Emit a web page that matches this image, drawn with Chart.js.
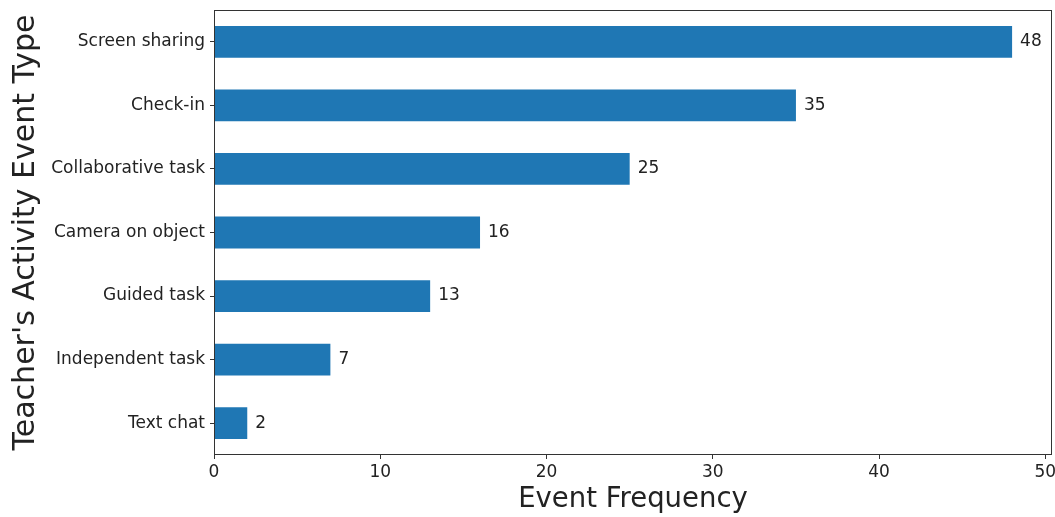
<!DOCTYPE html>
<html>
<head>
<meta charset="utf-8">
<script src="https://cdn.jsdelivr.net/npm/chart.js@4/dist/chart.umd.min.js"></script>
<style>
  html, body { margin: 0; padding: 0; background: #fff; }
  #wrap { width: 1055px; height: 517px; position: relative; }
</style>
</head>
<body>
<div id="wrap"><canvas id="c" width="1055" height="517"></canvas></div>
<script>
const categories = ["Screen sharing", "Check-in", "Collaborative task", "Camera on object", "Guided task", "Independent task", "Text chat"];
const frequencies = [48, 35, 25, 16, 13, 7, 2];
const xTickValues = [0, 10, 20, 30, 40, 50];
const xAxisMax = 50.4;
const xTitle = "Event Frequency";
const yTitle = "Teacher's Activity Event Type";

const FONT = "'DejaVu Sans', sans-serif";
const TEXT = "#222222";
const LINE = "#333333";

const frameBox = {
  id: 'frameBox',
  afterDraw(chart) {
    const {ctx, chartArea: a} = chart;
    ctx.save();
    ctx.strokeStyle = LINE;
    ctx.lineWidth = 1;
    ctx.strokeRect(Math.round(a.left) + 0.5, Math.round(a.top) + 0.5,
                   Math.round(a.right - a.left) - 1, Math.round(a.bottom - a.top) - 1);
    ctx.restore();
  }
};

const valueLabels = {
  id: 'valueLabels',
  afterDatasetsDraw(chart) {
    const {ctx} = chart;
    const meta = chart.getDatasetMeta(0);
    ctx.save();
    ctx.font = "17px " + FONT;
    ctx.fillStyle = TEXT;
    ctx.textAlign = 'left';
    ctx.textBaseline = 'middle';
    meta.data.forEach((el, i) => {
      ctx.fillText(String(frequencies[i]), el.x + 8, el.y);
    });
    ctx.restore();
  }
};

new Chart(document.getElementById('c'), {
  type: 'bar',
  data: {
    labels: categories,
    datasets: [{
      data: frequencies,
      backgroundColor: '#1f77b4',
      borderWidth: 0,
      categoryPercentage: 0.5,
      barPercentage: 1.0
    }]
  },
  options: {
    indexAxis: 'y',
    responsive: false,
    animation: false,
    devicePixelRatio: 1,
    layout: { padding: { left: 0, top: 10, right: 3, bottom: 0 } },
    plugins: { legend: { display: false }, tooltip: { enabled: false } },
    scales: {
      x: {
        type: 'linear',
        min: 0,
        max: xAxisMax,
        afterBuildTicks(scale) { scale.ticks = xTickValues.map(v => ({ value: v })); },
        afterFit(scale) { scale.height = 62; scale.paddingLeft = 0; scale.paddingRight = 0; },
        border: { display: false },
        grid: { display: true, drawOnChartArea: false, drawTicks: true, tickLength: 4, color: LINE },
        ticks: { color: TEXT, font: { family: FONT, size: 17 }, padding: 3, maxRotation: 0 },
        title: { display: true, text: xTitle, color: TEXT, font: { family: FONT, size: 27.5 }, padding: { top: 0, bottom: 1 } }
      },
      y: {
        type: 'category',
        offset: true,
        afterFit(scale) { scale.width = 214; scale.paddingTop = 0; scale.paddingBottom = 0; },
        border: { display: false },
        grid: { display: true, drawOnChartArea: false, drawTicks: true, tickLength: 4, color: LINE, offset: false },
        ticks: { color: TEXT, font: { family: FONT, size: 17 }, padding: 5 },
        title: { display: true, text: yTitle, color: TEXT, font: { family: FONT, size: 30 }, padding: { top: 8, bottom: 0 } }
      }
    }
  },
  plugins: [frameBox, valueLabels]
});
</script>
</body>
</html>
